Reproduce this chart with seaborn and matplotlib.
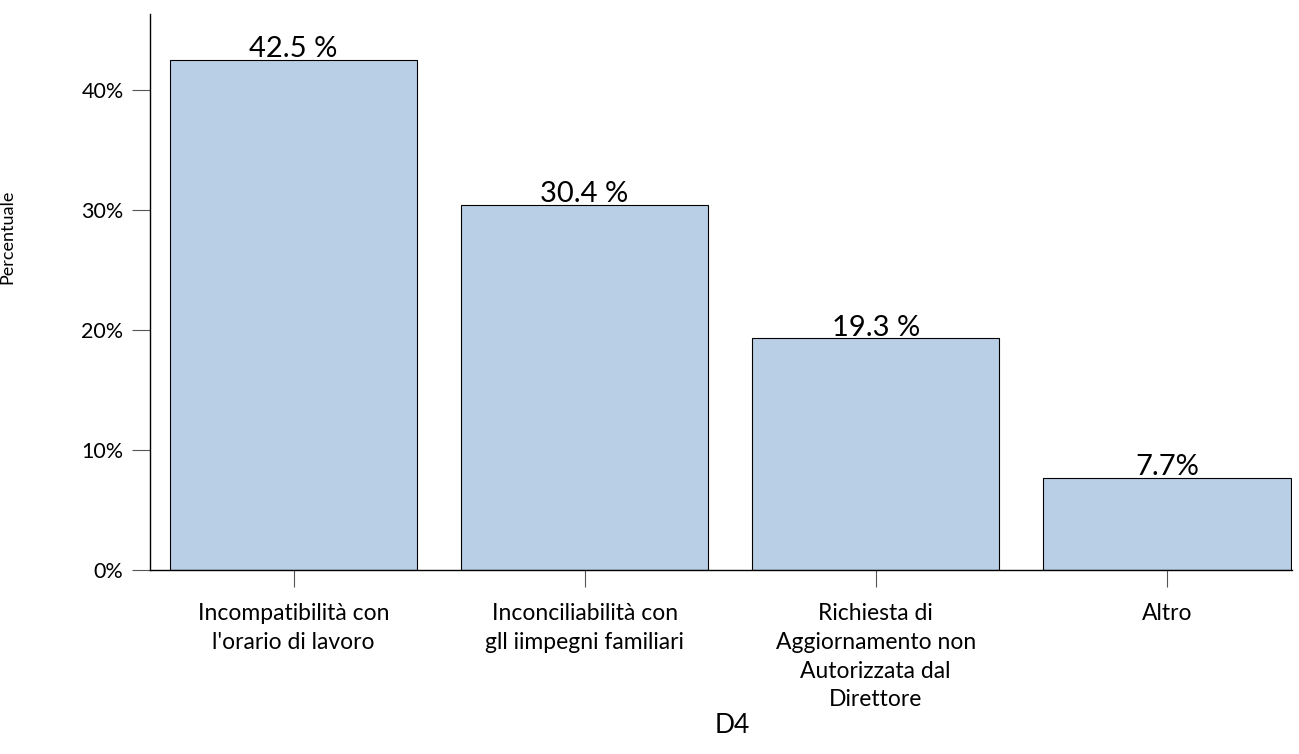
import matplotlib
matplotlib.use("Agg")
import matplotlib.pyplot as plt
import seaborn as sns
import pandas as pd

categories = ["Incompatibilità con\nl'orario di lavoro",
              "Inconciliabilità con\ngll iimpegni familiari",
              "Richiesta di\nAggiornamento non\nAutorizzata dal\nDirettore",
              "Altro"]
values = [42.5, 30.4, 19.3, 7.7]
bar_labels = ["42.5 %", "30.4 %", "19.3 %", "7.7%"]
yticks = [0, 10, 20, 30, 40]
ytick_labels = ["0%", "10%", "20%", "30%", "40%"]

sns.set_theme(style="ticks")
plt.rcParams['font.family'] = ['Lato', 'DejaVu Sans']

W, H = 1299, 754
fig = plt.figure(figsize=(W/100, H/100), dpi=100)
ax = fig.add_axes([150/W, 1-570/H, (1292-150)/W, (570-14)/H])

df = pd.DataFrame({"cat": categories, "val": values})
sns.barplot(data=df, x="cat", y="val", color="#B9CFE6", saturation=1,
            width=0.85, edgecolor="black", linewidth=0.8, ax=ax)

for i, (v, lab) in enumerate(zip(values, bar_labels)):
    ax.text(i, v - 0.2, lab, ha="center", va="bottom", fontsize=21, color="black")

ax.set_xlim(-0.493, 3.43)
ax.set_ylim(0, 46.3)
ax.set_yticks(yticks)
ax.set_yticklabels(ytick_labels, fontsize=15.5, color="black")
ax.set_xticks(range(len(categories)))
ax.set_xticklabels(categories, fontsize=16.5, linespacing=1.45, color="black")
ax.tick_params(axis="x", length=12, width=0.8, color="#555555", pad=12, direction="out")
ax.tick_params(axis="y", length=13, width=0.8, color="#555555", pad=6, direction="out")
ax.set_xlabel("D4", fontsize=19, color="black")
ax.xaxis.set_label_coords(0.51, -0.258)
ax.set_ylabel("Percentuale", fontsize=13, color="black")
ax.yaxis.set_label_coords(-0.118, 0.6)
for s in ["top", "right"]:
    ax.spines[s].set_visible(False)
for s in ["left", "bottom"]:
    ax.spines[s].set_color("black")
    ax.spines[s].set_linewidth(1.0)

fig.savefig("out.png", dpi=100)
